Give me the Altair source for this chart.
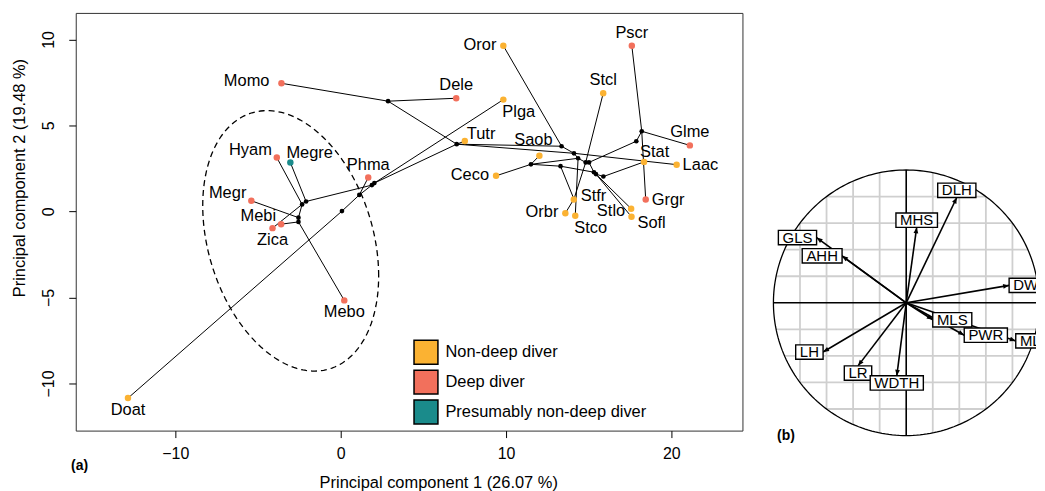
import math
import numpy as np
import pandas as pd
import altair as alt

FONT = "Liberation Sans"

# ---------------- (a) phylomorphospace: tips ----------------
tip_names = ["Momo", "Dele", "Oror", "Plga", "Pscr", "Stcl", "Tutr", "Saob", "Ceco", "Glme",
             "Stat", "Laac", "Grgr", "Stfr", "Orbr", "Stco", "Stlo", "Sofl", "Hyam", "Megre",
             "Phma", "Megr", "Mebi", "Zica", "Mebo", "Doat"]
tip_pc1 = [-3.58, 6.99, 9.84, 9.84, 17.61, 15.88, 7.51, 12.02, 9.40, 21.12,
           18.35, 20.32, 18.45, 14.10, 13.59, 14.19, 17.57, 17.59, -3.86, -3.04,
           1.67, -5.40, -3.60, -4.12, 0.22, -12.86]
tip_pc2 = [7.45, 6.58, 9.63, 6.50, 9.63, 6.87, 4.09, 3.24, 2.07, 3.84,
           2.88, 2.72, 0.69, 0.69, -0.10, -0.25, 0.16, -0.31, 3.13, 2.84,
           1.97, 0.62, -0.74, -0.97, -5.17, -10.85]
tip_group = ["Deep diver", "Deep diver", "Non-deep diver", "Non-deep diver", "Deep diver",
             "Non-deep diver", "Non-deep diver", "Non-deep diver", "Non-deep diver", "Deep diver",
             "Non-deep diver", "Non-deep diver", "Deep diver", "Non-deep diver", "Non-deep diver",
             "Non-deep diver", "Non-deep diver", "Non-deep diver", "Deep diver",
             "Presumably non-deep diver", "Deep diver", "Deep diver", "Deep diver", "Deep diver",
             "Deep diver", "Non-deep diver"]

groups = ["Non-deep diver", "Deep diver", "Presumably non-deep diver"]
group_colors = ["#FBB232", "#F2705C", "#1A8B8B"]

# ---------------- internal (ancestral) nodes ----------------
node_names = ["root", "odo", "na", "nb", "z1", "z2", "z3", "z4", "mono", "delph",
              "da", "db", "dc", "dd", "de", "df", "dg", "dh", "di", "dj", "dk", "dl", "ds"]
node_pc1 = [0.08, 1.13, 1.89, 2.04, -2.09, -2.33, -2.55, -2.55, 2.87, 7.02,
            13.36, 14.11, 14.36, 11.51, 13.30, 14.82, 15.02, 15.32, 15.44, 15.89, 17.88, 18.21, 14.11]
node_pc2 = [0.02, 0.96, 1.53, 1.65, 0.58, 0.41, -0.36, -0.61, 6.41, 3.91,
            3.79, 3.38, 3.09, 2.74, 2.63, 2.85, 2.85, 2.28, 2.17, 2.03, 4.08, 4.66, 0.72]

# ---------------- tree branches ----------------
edge_from = ["root", "root", "odo", "odo", "na", "na", "nb", "nb",
             "z1", "z1", "z2", "z2", "z2", "z3", "z3", "z4", "z4",
             "delph", "mono", "mono", "delph", "delph", "delph", "db", "da", "da", "db",
             "dc", "dc", "dd", "dd", "dd", "de", "ds", "ds", "df", "df", "dc", "df", "dg",
             "dh", "dh", "di", "di", "dj", "de", "dg", "dk", "dl", "dl", "dl"]
edge_to = ["Doat", "odo", "Phma", "na", "z1", "nb", "Plga", "delph",
           "Megre", "z2", "Hyam", "Zica", "z3", "Megr", "z4", "Mebi", "Mebo",
           "mono", "Momo", "Dele", "Tutr", "da", "db", "Laac", "Oror", "db", "dc",
           "Stco", "dd", "Ceco", "Saob", "de", "ds", "Stfr", "Orbr", "ds", "Stcl", "df", "dg", "dh",
           "di", "Stlo", "Sofl", "dj", "Stat", "dh", "dk", "dl", "Pscr", "Glme", "Grgr"]

# confidence ellipse (centre and Cholesky factor of its shape matrix)
ell_center = (-3.02, -1.71)
ell_factor = ((5.32, 0.0), (-2.04, 7.29))

# label placement (style only)
label_side = {
    "Momo": "left-far", "Dele": "above", "Oror": "left", "Plga": "below-right", "Pscr": "above",
    "Stcl": "above", "Tutr": "right-up", "Saob": "above-high", "Ceco": "left", "Glme": "above",
    "Stat": "above-right", "Laac": "right", "Grgr": "right", "Stfr": "right-high", "Orbr": "left",
    "Stco": "below-right", "Stlo": "left-low", "Sofl": "right-low", "Hyam": "above-left",
    "Megre": "above-right", "Phma": "above", "Megr": "above-left", "Mebi": "above-left",
    "Zica": "below", "Mebo": "below", "Doat": "below",
}
side_style = {
    "left": dict(align="right", dx=-7, dy=-1),
    "left-far": dict(align="right", dx=-12, dy=-2),
    "left-low": dict(align="right", dx=-6, dy=2),
    "right": dict(align="left", dx=6, dy=0),
    "right-high": dict(align="left", dx=7, dy=-4),
    "right-low": dict(align="left", dx=6, dy=6),
    "right-up": dict(align="left", dx=2, dy=-7),
    "above": dict(align="center", dx=0, dy=-13),
    "above-high": dict(align="center", dx=-6, dy=-16),
    "below": dict(align="center", dx=0, dy=11.5),
    "below-right": dict(align="left", dx=-1, dy=12),
    "above-right": dict(align="left", dx=-4, dy=-10),
    "above-left": dict(align="right", dx=-5, dy=-8),
}

# ---------------- (b) correlation circle ----------------
var_names = ["DLH", "MHS", "GLS", "AHH", "DWR", "MLS", "PWR", "MLF", "LH", "LR", "WDTH"]
var_c1 = [0.381, 0.079, -0.675, -0.483, 0.775, 0.200, 0.437, 0.825, -0.626, -0.363, -0.071]
var_c2 = [0.793, 0.568, 0.491, 0.354, 0.131, -0.128, -0.244, -0.287, -0.371, -0.475, -0.550]
grid_steps = [-0.8, -0.6, -0.4, -0.2, 0.2, 0.4, 0.6, 0.8]

# ================= build tables =================
tips = pd.DataFrame({"name": tip_names, "pc1": tip_pc1, "pc2": tip_pc2, "group": tip_group})
tips["side"] = tips["name"].map(label_side)
nodes = pd.DataFrame({"name": node_names, "pc1": node_pc1, "pc2": node_pc2})
coords = {n: (x, y) for n, x, y in zip(tip_names + node_names, tip_pc1 + node_pc1, tip_pc2 + node_pc2)}
edges = pd.DataFrame({
    "pc1": [coords[a][0] for a in edge_from], "pc2": [coords[a][1] for a in edge_from],
    "pc1_end": [coords[b][0] for b in edge_to], "pc2_end": [coords[b][1] for b in edge_to],
})
tt = np.linspace(0, 2 * np.pi, 181)
ell = pd.DataFrame({
    "pc1": ell_center[0] + ell_factor[0][0] * np.cos(tt) + ell_factor[0][1] * np.sin(tt),
    "pc2": ell_center[1] + ell_factor[1][0] * np.cos(tt) + ell_factor[1][1] * np.sin(tt),
    "o": np.arange(len(tt)),
})

# ================= panel (a) =================
W_A, H_A = 669.3, 419.3
xs = alt.Scale(domain=[-16.02, 24.30], nice=False, zero=False)
ys = alt.Scale(domain=[-12.74, 11.54], nice=False, zero=False)

x_axis = alt.Axis(values=[-10, 0, 10, 20], title="Principal component 1 (26.07 %)", grid=False,
                  domain=False, tickSize=7, tickColor="black", tickWidth=1, labelFontSize=16,
                  labelColor="black", labelPadding=8, labelFlush=False, titleFontSize=16.5,
                  titleFontWeight="normal", titleColor="black", titleX=363.9, titleY=52.5,
                  titleBaseline="middle", titleAlign="center")
y_axis = alt.Axis(values=[-10, -5, 0, 5, 10], title="Principal component 2 (19.48 %)", grid=False,
                  domain=False, tickSize=7, tickColor="black", tickWidth=1, labelFontSize=16,
                  labelColor="black", labelAngle=270, labelAlign="center", labelBaseline="bottom",
                  labelPadding=12, labelFlush=False, titleFontSize=16.5, titleFontWeight="normal",
                  titleColor="black", titleAngle=270, titleX=-56.7, titleY=165.3,
                  titleBaseline="middle", titleAlign="center")

def XA(f):
    return alt.X(f, scale=xs, axis=x_axis)

def YA(f):
    return alt.Y(f, scale=ys, axis=y_axis)

edge_layer = alt.Chart(edges).mark_rule(color="black", strokeWidth=1).encode(
    x=XA("pc1:Q"), y=YA("pc2:Q"), x2="pc1_end:Q", y2="pc2_end:Q",
)
ell_layer = alt.Chart(ell).mark_line(color="black", strokeWidth=1.3, strokeDash=[6, 4]).encode(
    x=XA("pc1:Q"), y=YA("pc2:Q"), order="o:Q"
)
node_layer = alt.Chart(nodes).mark_circle(color="black", size=22, opacity=1).encode(
    x=XA("pc1:Q"), y=YA("pc2:Q")
)
tip_layer = alt.Chart(tips).mark_circle(size=42, opacity=1).encode(
    x=XA("pc1:Q"), y=YA("pc2:Q"),
    color=alt.Color("group:N", scale=alt.Scale(domain=groups, range=group_colors),
                    legend=alt.Legend(title=None, orient="none", legendX=338.6, legendY=327.6,
                                      symbolType="square", symbolSize=576, symbolStrokeColor="black",
                                      symbolStrokeWidth=1.5, symbolOpacity=1, labelFontSize=16.5,
                                      labelColor="black", labelOffset=6.5, labelLimit=0,
                                      rowPadding=0, padding=0)),
)
label_layers = []
for side, st in side_style.items():
    label_layers.append(
        alt.Chart(tips).transform_filter(alt.datum.side == side).mark_text(
            font=FONT, fontSize=16.5, color="black", baseline="middle", **st
        ).encode(x=XA("pc1:Q"), y=YA("pc2:Q"), text="name:N")
    )
tag_a = alt.Chart(pd.DataFrame({"t": ["(a)"]})).mark_text(
    font=FONT, fontSize=14, fontWeight="bold", align="left", baseline="middle", color="black"
).encode(x=alt.value(-4.7), y=alt.value(455.3), text="t:N")

panel_a = alt.layer(edge_layer, ell_layer, node_layer, tip_layer, *label_layers, tag_a).properties(
    width=W_A, height=H_A, view=alt.ViewBackground(stroke="#333333", strokeWidth=1)
)

# ================= panel (b) =================
PX = 133.3
XB_MIN, XB_MAX = -1.0255, 0.9775
YB_MIN, YB_MAX = -1.118, 2.183
xs2 = alt.Scale(domain=[XB_MIN, XB_MAX], nice=False, zero=False)
ys2 = alt.Scale(domain=[YB_MIN, YB_MAX], nice=False, zero=False)
W_B = (XB_MAX - XB_MIN) * PX
H_B = (YB_MAX - YB_MIN) * PX

grid_rows = []
for g in grid_steps:
    h = math.sqrt(1 - g * g)
    grid_rows.append({"a": g, "b": -h, "a2": g, "b2": h})
    grid_rows.append({"a": -h, "b": g, "a2": h, "b2": g})
grid_df = pd.DataFrame(grid_rows)
axes_df = pd.DataFrame({"a": [-1, 0], "b": [0, -1], "a2": [1, 0], "b2": [0, 1]})
tc = np.linspace(0, 2 * np.pi, 241)
circ_df = pd.DataFrame({"a": np.cos(tc), "b": np.sin(tc), "o": np.arange(len(tc))})

ARIAL = {"A": 667, "D": 722, "F": 611, "G": 778, "H": 722, "L": 556, "M": 833, "P": 667,
         "R": 722, "S": 667, "T": 611, "W": 944, " ": 278}
LAB_FS = 15
half_h = 7.2 / PX
rows = []
for n, x, y in zip(var_names, var_c1, var_c2):
    w = sum(ARIAL[c] for c in " " + n + " ") * LAB_FS / 1000 / PX
    if x > y and x > -y:
        cx, cy = x + w / 2, y
    elif x > y:
        cx, cy = x, y - half_h
    elif x <= -y:
        cx, cy = x - w / 2, y
    else:
        cx, cy = x, y + half_h
    ang = (math.degrees(math.atan2(x, y)) + 360) % 360
    rows.append({"name": n, "a": 0.0, "b": 0.0, "a2": x, "b2": y, "ang": ang,
                 "cx": cx, "cy": cy, "bx1": cx - w / 2, "bx2": cx + w / 2,
                 "by1": cy - half_h, "by2": cy + half_h})
vars_df = pd.DataFrame(rows)

def X2(f):
    return alt.X(f, scale=xs2, axis=None)

def Y2(f):
    return alt.Y(f, scale=ys2, axis=None)

grid_layer = alt.Chart(grid_df).mark_rule(color="#CFCFCF", strokeWidth=1.8, clip=True).encode(
    x=X2("a:Q"), y=Y2("b:Q"), x2="a2:Q", y2="b2:Q")
circle_layer = alt.Chart(circ_df).mark_line(color="black", strokeWidth=1.3, clip=True).encode(
    x=X2("a:Q"), y=Y2("b:Q"), order="o:Q")
axes_layer = alt.Chart(axes_df).mark_rule(color="black", strokeWidth=1.6, clip=True).encode(
    x=X2("a:Q"), y=Y2("b:Q"), x2="a2:Q", y2="b2:Q")
arrow_layer = alt.Chart(vars_df).mark_rule(color="black", strokeWidth=1.6, clip=True).encode(
    x=X2("a:Q"), y=Y2("b:Q"), x2="a2:Q", y2="b2:Q")
head_layer = alt.Chart(vars_df).mark_point(
    shape="M0,0L-0.4,1L0.4,1Z", filled=True, color="black", size=144, opacity=1, clip=True
).encode(x=X2("a2:Q"), y=Y2("b2:Q"), angle=alt.Angle("ang:Q", scale=None))
box_layer = alt.Chart(vars_df).mark_rect(fill="white", stroke="black", strokeWidth=1.4, clip=True).encode(
    x=X2("bx1:Q"), x2="bx2:Q", y=Y2("by1:Q"), y2="by2:Q")
text_layer = alt.Chart(vars_df).mark_text(
    font=FONT, fontSize=LAB_FS, color="black", baseline="middle", align="center", clip=True
).encode(x=X2("cx:Q"), y=Y2("cy:Q"), text="name:N")
tag_b = alt.Chart(pd.DataFrame({"t": ["(b)"]})).mark_text(
    font=FONT, fontSize=14, fontWeight="bold", align="left", baseline="middle", color="black"
).encode(x=alt.value(7), y=alt.value(424.3), text="t:N")

panel_b = alt.layer(grid_layer, circle_layer, axes_layer, arrow_layer, head_layer,
                    box_layer, text_layer, tag_b).properties(
    width=W_B, height=H_B, view=alt.ViewBackground(stroke="transparent")
)

chart = alt.hconcat(panel_a, panel_b, spacing=26).properties(
    padding={"left": 2, "top": 3, "right": 0, "bottom": 0}
).configure(font=FONT).configure_axis(labelFont=FONT, titleFont=FONT).configure_legend(labelFont=FONT)

chart.save("out.html", embed_options={"renderer": "svg", "actions": False})
